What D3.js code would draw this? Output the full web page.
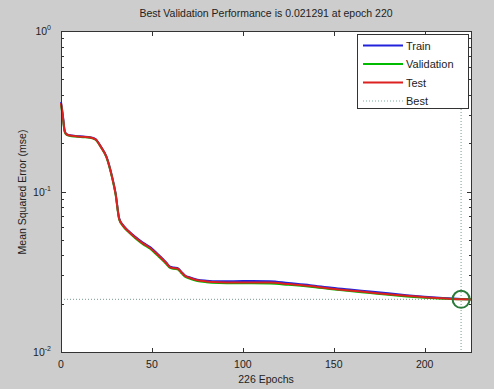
<!DOCTYPE html>
<html>
<head>
<meta charset="utf-8">
<script src="https://cdn.jsdelivr.net/npm/d3@7"></script>
<style>
  body { margin: 0; background: #cdcdcd; }
  svg { display: block; font-family: 'Liberation Sans', Arial, sans-serif; }
</style>
</head>
<body>
<div class="chart"></div>
<script>
// performance plot - mse per epoch
const epochs = [0, 1, 2, 3, 5, 8, 12, 16, 19, 22, 25, 28, 30, 32, 34, 37, 41, 45, 49, 53, 56, 58, 60, 62, 64, 66, 68, 71, 75, 80, 87, 95, 105, 115, 125, 137, 149, 160, 170, 180, 190, 200, 210, 220, 226]
const train = [0.36, 0.30, 0.24, 0.228, 0.224, 0.222, 0.220, 0.218, 0.212, 0.190, 0.165, 0.125, 0.098, 0.068, 0.062, 0.057, 0.052, 0.048, 0.045, 0.041, 0.038, 0.036, 0.034, 0.0336, 0.0334, 0.0318, 0.0301, 0.0291, 0.0282, 0.0278, 0.0276, 0.0276, 0.0277, 0.0276, 0.0269, 0.0261, 0.0251, 0.0244, 0.0238, 0.0232, 0.0226, 0.0221, 0.0217, 0.0214, 0.0213]
const validation = [0.35, 0.29, 0.235, 0.226, 0.222, 0.220, 0.218, 0.216, 0.210, 0.188, 0.163, 0.123, 0.096, 0.067, 0.061, 0.056, 0.051, 0.047, 0.044, 0.040, 0.0372, 0.0352, 0.0334, 0.0330, 0.0328, 0.0312, 0.0296, 0.0286, 0.0277, 0.0272, 0.0269, 0.0268, 0.0268, 0.0267, 0.0262, 0.0255, 0.0246, 0.0239, 0.0233, 0.0227, 0.0222, 0.0218, 0.0215, 0.021291, 0.02130]
const test = [0.355, 0.295, 0.238, 0.227, 0.223, 0.221, 0.219, 0.217, 0.211, 0.189, 0.164, 0.124, 0.097, 0.0675, 0.0615, 0.0565, 0.0515, 0.0475, 0.0445, 0.0405, 0.0376, 0.0356, 0.0337, 0.0333, 0.0331, 0.0315, 0.0299, 0.0289, 0.0280, 0.0275, 0.0272, 0.0271, 0.0271, 0.0271, 0.0265, 0.0258, 0.0248, 0.0241, 0.0235, 0.0229, 0.0224, 0.0219, 0.0216, 0.0213, 0.0212]
const bestEpoch = 220
const bestPerf = 0.021291
const xTicks = [0, 50, 100, 150, 200]
const yTickExps = [0, -1, -2]
const legendNames = ['Train', 'Validation', 'Test', 'Best']

const margin = ({top: 31, right: 22, bottom: 36, left: 61})
const W = 494, H = 389
const width = W - margin.left - margin.right
const height = H - margin.top - margin.bottom

const svg = d3.select('.chart')
	.append('svg')
	.attr('width', W)
	.attr('height', H)

svg.append('rect')
	.attr('width', W)
	.attr('height', H)
	.attr('fill', '#cdcdcd')

const g = svg.append('g')
	.attr('transform', `translate(${margin.left},${margin.top})`)

const xScale = d3.scaleLinear()
	.domain([0, 226])
	.range([0, width])

const yScale = d3.scaleLog()
	.domain([0.01, 1])
	.range([height - 1, 0])

g.append('rect')
	.attr('width', width)
	.attr('height', height)
	.attr('fill', '#fff')

// minor + major y ticks (both sides)
const yMinor = []
for (const e of [-2, -1]) for (let k = 2; k <= 9; k++) yMinor.push(k * Math.pow(10, e))
const yMajor = yTickExps.map(e => Math.pow(10, e))

const axisColor = '#333'
const tickGroup = g.append('g').attr('stroke', axisColor).attr('stroke-width', 1)
yMinor.forEach(v => {
	const y = Math.round(yScale(v)) + 0.5
	tickGroup.append('line').attr('x1', 0).attr('x2', 3).attr('y1', y).attr('y2', y)
	tickGroup.append('line').attr('x1', width).attr('x2', width - 3).attr('y1', y).attr('y2', y)
})
yMajor.forEach(v => {
	const y = Math.round(yScale(v)) + 0.5
	tickGroup.append('line').attr('x1', 0).attr('x2', 5).attr('y1', y).attr('y2', y)
	tickGroup.append('line').attr('x1', width).attr('x2', width - 5).attr('y1', y).attr('y2', y)
})
xTicks.forEach(v => {
	const x = Math.round(xScale(v)) + 0.5
	tickGroup.append('line').attr('x1', x).attr('x2', x).attr('y1', height).attr('y2', height - 5)
	tickGroup.append('line').attr('x1', x).attr('x2', x).attr('y1', 0).attr('y2', 5)
})

// best lines
g.append('line')
	.attr('x1', 0).attr('x2', width)
	.attr('y1', yScale(bestPerf)).attr('y2', yScale(bestPerf))
	.attr('stroke', '#7a9a8a')
	.attr('stroke-dasharray', '1,2')
g.append('line')
	.attr('x1', xScale(bestEpoch)).attr('x2', xScale(bestEpoch))
	.attr('y1', 0).attr('y2', height)
	.attr('stroke', '#7a9a8a')
	.attr('stroke-dasharray', '1,2')

const line = vals => d3.line()
	.x((d, i) => xScale(epochs[i]))
	.y(d => yScale(d))
	.curve(d3.curveMonotoneX)(vals)

const series = [
	{name: 'Train', values: train, color: '#2222dd'},
	{name: 'Validation', values: validation, color: '#00bb00'},
	{name: 'Test', values: test, color: '#dd2020'}
]

g.append('g').selectAll('path')
	.data(series)
	.enter()
	.append('path')
	.attr('d', d => line(d.values))
	.attr('fill', 'none')
	.attr('stroke', d => d.color)
	.attr('stroke-width', 2)
	.attr('stroke-linejoin', 'round')

// best circle
g.append('circle')
	.attr('cx', xScale(bestEpoch))
	.attr('cy', yScale(bestPerf))
	.attr('r', 8.5)
	.attr('fill', 'none')
	.attr('stroke', '#2a7a3a')
	.attr('stroke-width', 2)

// frame
g.append('rect')
	.attr('x', 0.5).attr('y', 0.5)
	.attr('width', width - 1)
	.attr('height', height - 1)
	.attr('fill', 'none')
	.attr('stroke', axisColor)

// x tick labels
g.append('g').selectAll('text')
	.data(xTicks)
	.enter()
	.append('text')
	.attr('x', d => xScale(d))
	.attr('y', height + 15)
	.attr('text-anchor', 'middle')
	.attr('font-size', '10.5px')
	.attr('fill', '#222')
	.text(d => d)

// y tick labels 10^n
const yl = g.append('g').selectAll('text')
	.data(yTickExps)
	.enter()
	.append('text')
	.attr('x', -10)
	.attr('y', d => yScale(Math.pow(10, d)) + 4)
	.attr('text-anchor', 'end')
	.attr('font-size', '10.5px')
	.attr('fill', '#222')
yl.append('tspan').text('10')
yl.append('tspan')
	.attr('dy', -5)
	.attr('font-size', '7px')
	.text(d => d)

// title and axis labels
svg.append('text')
	.attr('x', 266)
	.attr('y', 17)
	.attr('text-anchor', 'middle')
	.attr('font-size', '10.5px')
	.attr('fill', '#222')
	.text('Best Validation Performance is 0.021291 at epoch 220')

svg.append('text')
	.attr('x', 266)
	.attr('y', 383)
	.attr('text-anchor', 'middle')
	.attr('font-size', '10.5px')
	.attr('fill', '#222')
	.text('226 Epochs')

svg.append('text')
	.attr('transform', 'translate(26,192) rotate(-90)')
	.attr('text-anchor', 'middle')
	.attr('font-size', '10.5px')
	.attr('fill', '#222')
	.text('Mean Squared Error  (mse)')

// legend
const lg = svg.append('g').attr('transform', 'translate(357,34)')
lg.append('rect')
	.attr('x', 0.5).attr('y', 0.5)
	.attr('width', 111).attr('height', 74)
	.attr('fill', '#fff')
	.attr('stroke', axisColor)
const legendColors = ['#2222dd', '#00bb00', '#dd2020', '#7ab0a0']
lg.selectAll('line')
	.data(legendNames)
	.enter()
	.append('line')
	.attr('x1', 6).attr('x2', 46)
	.attr('y1', (d, i) => 11.5 + i * 18.5)
	.attr('y2', (d, i) => 11.5 + i * 18.5)
	.attr('stroke', (d, i) => legendColors[i])
	.attr('stroke-width', (d, i) => i < 3 ? 2 : 1)
	.attr('stroke-dasharray', (d, i) => i < 3 ? null : '1,2')
lg.selectAll('text')
	.data(legendNames)
	.enter()
	.append('text')
	.attr('x', 49)
	.attr('y', (d, i) => 15.5 + i * 18.5)
	.attr('font-size', '11px')
	.attr('fill', '#222')
	.text(d => d)
</script>
</body>
</html>
